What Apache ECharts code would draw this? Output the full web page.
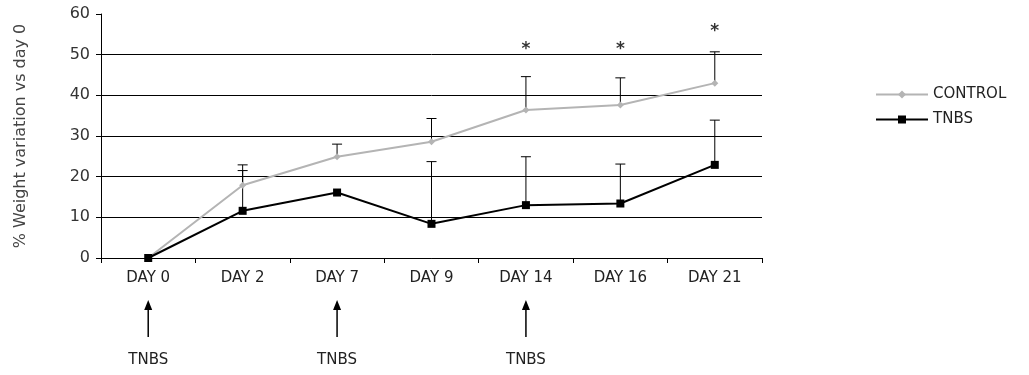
<!DOCTYPE html>
<html><head><meta charset="utf-8">
<script src="https://cdn.jsdelivr.net/npm/echarts@6/dist/echarts.min.js"></script>
<style>html,body{margin:0;padding:0;background:#fff}#c{width:1029px;height:375px}</style>
</head><body><div id="c"></div>
<script>
var categories = ['DAY 0','DAY 2','DAY 7','DAY 9','DAY 14','DAY 16','DAY 21'];
var controlValues = [0, 17.9, 24.9, 28.6, 36.4, 37.6, 43.0];
var controlUpper = [null, 22.9, 28.0, 34.3, 44.6, 44.3, 50.7];
var tnbsValues = [0, 11.6, 16.1, 8.4, 13.0, 13.4, 22.9];
var tnbsUpper = [null, 21.5, null, 23.7, 24.9, 23.1, 33.9];
var starCats = ['DAY 14','DAY 16','DAY 21'];
var starValues = [52.1, 52.1, 56.4];
var arrowCats = ['DAY 0','DAY 7','DAY 14'];
var arrowLabel = 'TNBS';
var yTicks = [0, 10, 20, 30, 40, 50, 60];

var FONT = '"DejaVu Sans", "Liberation Sans", Arial, sans-serif';
function errData(vals, ups){
  var d = [];
  for (var i = 0; i < vals.length; i++) if (ups[i] != null) d.push([i, vals[i], ups[i]]);
  return d;
}
function errRender(params, api){
  var x = api.value(0);
  var p0 = api.coord([x, api.value(1)]);
  var p1 = api.coord([x, api.value(2)]);
  var st = {stroke:'#000', lineWidth:1};
  return {type:'group', children:[
    {type:'line', shape:{x1:p0[0], y1:p0[1], x2:p1[0], y2:p1[1]}, style:st},
    {type:'line', shape:{x1:p1[0]-5, y1:p1[1], x2:p1[0]+5, y2:p1[1]}, style:st}
  ]};
}
var chart = echarts.init(document.getElementById('c'));
chart.setOption({
  animation:false,
  textStyle:{fontFamily:FONT},
  grid:{left:101, right:267, top:14, bottom:117},
  legend:{
    orient:'vertical', left:870, top:82, itemWidth:52, itemHeight:10, itemGap:10,
    textStyle:{fontFamily:FONT, fontSize:15, color:'#222'},
    data:['CONTROL','TNBS']
  },
  xAxis:{
    type:'category', data:categories, boundaryGap:true,
    axisLine:{lineStyle:{color:'#000', width:1}},
    axisTick:{show:true, alignWithLabel:false, length:5, inside:false, lineStyle:{color:'#000'}},
    axisLabel:{color:'#222', fontFamily:FONT, fontSize:15, margin:13}
  },
  yAxis:{
    type:'value', min:0, max:60, interval:10,
    name:'% Weight variation vs day 0', nameLocation:'middle', nameGap:72, nameRotate:90,
    nameTextStyle:{color:'#444', fontFamily:FONT, fontSize:16},
    axisLine:{show:true, lineStyle:{color:'#000'}},
    axisTick:{show:true, length:5, lineStyle:{color:'#000'}},
    axisLabel:{color:'#333', fontFamily:FONT, fontSize:16, margin:11},
    splitLine:{show:true, lineStyle:{color:['#000','#000','#000','#000','#000','#000','rgba(0,0,0,0)'], width:1}}
  },
  series:[
    {type:'custom', name:'errC', renderItem:errRender, data:errData(controlValues, controlUpper), z:1, silent:true},
    {type:'custom', name:'errT', renderItem:errRender, data:errData(tnbsValues, tnbsUpper), z:1, silent:true},
    {type:'line', name:'CONTROL', data:controlValues, symbol:'diamond', symbolSize:7,
     lineStyle:{color:'#b4b4b4', width:2}, itemStyle:{color:'#b4b4b4'}, z:3},
    {type:'line', name:'TNBS', data:tnbsValues, symbol:'rect', symbolSize:8,
     lineStyle:{color:'#000', width:2}, itemStyle:{color:'#000'}, z:4},
    {type:'scatter', name:'stars', symbolSize:0, z:5,
     data:starCats.map(function(c,i){return [c, starValues[i]];}),
     label:{show:true, position:'inside', offset:[0,3], formatter:'*', fontSize:17, fontWeight:'bold', color:'#000', fontFamily:FONT}}
  ]
});
var g = [];
arrowCats.forEach(function(c){
  var x = chart.convertToPixel({xAxisIndex:0}, c);
  g.push({type:'line', shape:{x1:x, y1:337, x2:x, y2:308}, style:{stroke:'#000', lineWidth:1.5}});
  g.push({type:'polygon', shape:{points:[[x,300],[x-4,310],[x+4,310]]}, style:{fill:'#000'}});
  g.push({type:'text', x:x, y:360, style:{text:arrowLabel, fill:'#222', font:'15px '+FONT, textAlign:'center', textVerticalAlign:'middle'}});
});
chart.setOption({graphic:g});
</script>
</body></html>
